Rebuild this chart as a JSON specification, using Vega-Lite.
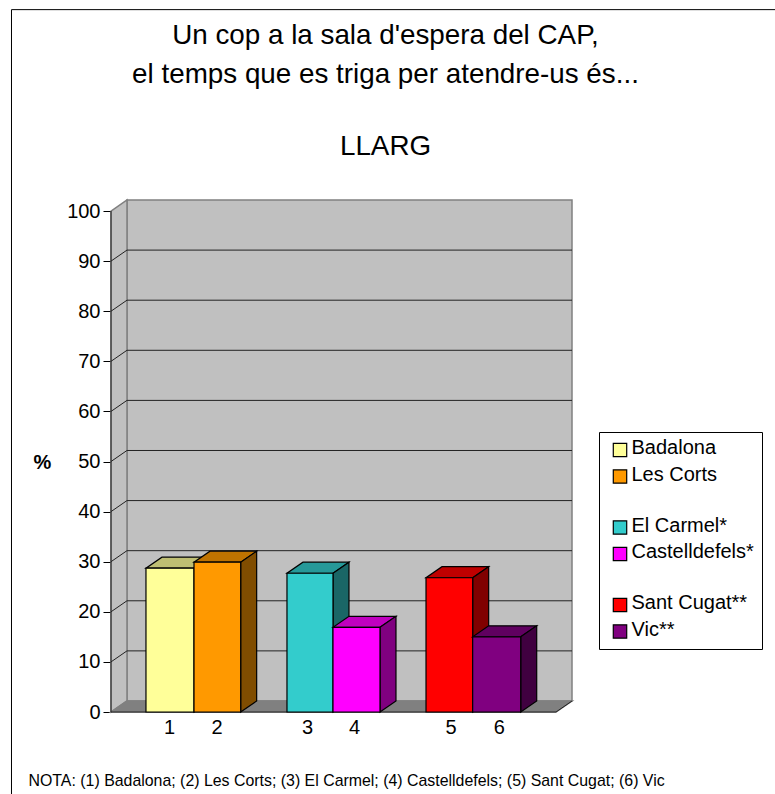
{
"$schema":"https://vega.github.io/schema/vega-lite/v6.json",
"width":461,"height":512,
"autosize":"none",
"padding":{"left":111,"top":200,"right":203,"bottom":82},
"background":"white",
"title":{"text":["Un cop a la sala d'espera del CAP,","el temps que es triga per atendre-us és..."],"subtitle":"LLARG","font":"Liberation Sans","fontSize":27.8,"fontWeight":"normal","color":"black","lineHeight":39,"subtitleFont":"Liberation Sans","subtitleFontSize":27.8,"subtitleColor":"black","subtitleLineHeight":30,"subtitlePadding":44,"anchor":"middle","dx":44,"dy":151.5,"offset":0},
"config":{"view":{"stroke":null},"font":"Liberation Sans"},
"datasets":{
"frame":[{"x":-2.372,"x2":17.8,"y":140.2,"y2":-21.6}],
"walls":[
{"face":"Wall","x":0.085,"y":2.2,"y2":102.2},{"face":"Wall","x":9.553,"y":2.2,"y2":102.2},
{"face":"Left wall","x":-0.255,"y":0,"y2":100},{"face":"Left wall","x":0.085,"y":2.2,"y2":102.2}
],
"floor":[
{"face":"Floor","x":-0.255,"y":0,"y2":0},{"face":"Floor","x":0.085,"y":0,"y2":2.2},{"face":"Floor","x":9.213,"y":0,"y2":2.2},{"face":"Floor","x":9.553,"y":2.2,"y2":2.2}
],
"lines":[
{"g":"10","x":-0.255,"y":10},{"g":"10","x":0.085,"y":12.2},{"g":"10","x":9.553,"y":12.2},
{"g":"20","x":-0.255,"y":20},{"g":"20","x":0.085,"y":22.2},{"g":"20","x":9.553,"y":22.2},
{"g":"30","x":-0.255,"y":30},{"g":"30","x":0.085,"y":32.2},{"g":"30","x":9.553,"y":32.2},
{"g":"40","x":-0.255,"y":40},{"g":"40","x":0.085,"y":42.2},{"g":"40","x":9.553,"y":42.2},
{"g":"50","x":-0.255,"y":50},{"g":"50","x":0.085,"y":52.2},{"g":"50","x":9.553,"y":52.2},
{"g":"60","x":-0.255,"y":60},{"g":"60","x":0.085,"y":62.2},{"g":"60","x":9.553,"y":62.2},
{"g":"70","x":-0.255,"y":70},{"g":"70","x":0.085,"y":72.2},{"g":"70","x":9.553,"y":72.2},
{"g":"80","x":-0.255,"y":80},{"g":"80","x":0.085,"y":82.2},{"g":"80","x":9.553,"y":82.2},
{"g":"90","x":-0.255,"y":90},{"g":"90","x":0.085,"y":92.2},{"g":"90","x":9.553,"y":92.2},
{"g":"left","x":-0.255,"y":100},{"g":"left","x":-0.255,"y":0},
{"g":"bottom","x":-0.255,"y":0},{"g":"bottom","x":9.213,"y":0},{"g":"bottom","x":9.553,"y":2.2}
],
"bars":[
{"face":"Badalona top","x":0.489,"y":28.7,"y2":28.7},{"face":"Badalona top","x":0.829,"y":28.7,"y2":30.9},{"face":"Badalona top","x":1.511,"y":28.7,"y2":30.9},{"face":"Badalona top","x":1.851,"y":30.9,"y2":30.9},
{"face":"Badalona side","x":1.511,"y":0,"y2":28.7},{"face":"Badalona side","x":1.851,"y":2.2,"y2":30.9},
{"face":"Badalona","x":0.489,"y":0,"y2":28.7},{"face":"Badalona","x":1.511,"y":0,"y2":28.7},
{"face":"Les Corts top","x":1.511,"y":29.9,"y2":29.9},{"face":"Les Corts top","x":1.851,"y":29.9,"y2":32.1},{"face":"Les Corts top","x":2.504,"y":29.9,"y2":32.1},{"face":"Les Corts top","x":2.844,"y":32.1,"y2":32.1},
{"face":"Les Corts side","x":2.504,"y":0,"y2":29.9},{"face":"Les Corts side","x":2.844,"y":2.2,"y2":32.1},
{"face":"Les Corts","x":1.511,"y":0,"y2":29.9},{"face":"Les Corts","x":2.504,"y":0,"y2":29.9},
{"face":"El Carmel* top","x":3.489,"y":27.7,"y2":27.7},{"face":"El Carmel* top","x":3.829,"y":27.7,"y2":29.9},{"face":"El Carmel* top","x":4.468,"y":27.7,"y2":29.9},{"face":"El Carmel* top","x":4.808,"y":29.9,"y2":29.9},
{"face":"El Carmel* side","x":4.468,"y":0,"y2":27.7},{"face":"El Carmel* side","x":4.808,"y":2.2,"y2":29.9},
{"face":"El Carmel*","x":3.489,"y":0,"y2":27.7},{"face":"El Carmel*","x":4.468,"y":0,"y2":27.7},
{"face":"Castelldefels* top","x":4.468,"y":16.9,"y2":16.9},{"face":"Castelldefels* top","x":4.808,"y":16.9,"y2":19.1},{"face":"Castelldefels* top","x":5.468,"y":16.9,"y2":19.1},{"face":"Castelldefels* top","x":5.808,"y":19.1,"y2":19.1},
{"face":"Castelldefels* side","x":5.468,"y":0,"y2":16.9},{"face":"Castelldefels* side","x":5.808,"y":2.2,"y2":19.1},
{"face":"Castelldefels*","x":4.468,"y":0,"y2":16.9},{"face":"Castelldefels*","x":5.468,"y":0,"y2":16.9},
{"face":"Sant Cugat** top","x":6.447,"y":26.8,"y2":26.8},{"face":"Sant Cugat** top","x":6.787,"y":26.8,"y2":29},{"face":"Sant Cugat** top","x":7.44,"y":26.8,"y2":29},{"face":"Sant Cugat** top","x":7.78,"y":29,"y2":29},
{"face":"Sant Cugat** side","x":7.44,"y":0,"y2":26.8},{"face":"Sant Cugat** side","x":7.78,"y":2.2,"y2":29},
{"face":"Sant Cugat**","x":6.447,"y":0,"y2":26.8},{"face":"Sant Cugat**","x":7.44,"y":0,"y2":26.8},
{"face":"Vic** top","x":7.44,"y":15,"y2":15},{"face":"Vic** top","x":7.78,"y":15,"y2":17.2},{"face":"Vic** top","x":8.462,"y":15,"y2":17.2},{"face":"Vic** top","x":8.802,"y":17.2,"y2":17.2},
{"face":"Vic** side","x":8.462,"y":0,"y2":15},{"face":"Vic** side","x":8.802,"y":2.2,"y2":17.2},
{"face":"Vic**","x":7.44,"y":0,"y2":15},{"face":"Vic**","x":8.462,"y":0,"y2":15}
]
},
"layer":[
{"data":{"name":"frame"},"mark":{"type":"rect","fill":"transparent","stroke":"black","strokeWidth":1},
"encoding":{
"x":{"field":"x","type":"quantitative","scale":{"domain":[-0.255,9.553],"nice":false,"zero":false},
"axis":{"values":[0.98,1.99,3.915,4.915,6.972,7.994],"labelExpr":"datum.value<1.5?'1':datum.value<3?'2':datum.value<4.5?'3':datum.value<6?'4':datum.value<7.5?'5':'6'","ticks":false,"domain":false,"grid":false,"labelFont":"Liberation Sans","labelFontSize":20,"labelColor":"black","labelPadding":5,"labelAngle":0,"title":"NOTA: (1) Badalona; (2) Les Corts; (3) El Carmel; (4) Castelldefels; (5) Sant Cugat; (6) Vic","titleFont":"Liberation Sans","titleFontSize":15.9,"titleFontWeight":"normal","titleColor":"black","titleAlign":"left","titleAnchor":"start","titleBaseline":"alphabetic","titleX":-83,"titleY":73}},
"x2":{"field":"x2"},
"y":{"field":"y","type":"quantitative","scale":{"domain":[0,102.2],"nice":false,"zero":false},
"axis":{"values":[0,10,20,30,40,50,60,70,80,90,100],"domain":false,"grid":false,"tickSize":8,"tickColor":"black","tickWidth":1,"labelFont":"Liberation Sans","labelFontSize":20,"labelColor":"black","labelPadding":3,"title":"%","titleAngle":0,"titleFont":"Liberation Sans","titleFontSize":20,"titleFontWeight":"bold","titleColor":"black","titleX":-69,"titleY":272,"titleAlign":"center"}},
"y2":{"field":"y2"}}},
{"data":{"name":"walls"},"mark":{"type":"area","fill":"#c0c0c0","stroke":"#808080","strokeWidth":1.5},
"encoding":{
"x":{"field":"x","type":"quantitative"},"y":{"field":"y","type":"quantitative"},"y2":{"field":"y2"},"detail":{"field":"face"}}},
{"data":{"name":"floor"},"mark":{"type":"area","fill":"#808080","stroke":"#808080","strokeWidth":1.5},
"encoding":{
"x":{"field":"x","type":"quantitative"},"y":{"field":"y","type":"quantitative"},"y2":{"field":"y2"}}},
{"data":{"name":"lines"},"mark":{"type":"line","color":"#222222","strokeWidth":1},
"encoding":{
"x":{"field":"x","type":"quantitative"},"y":{"field":"y","type":"quantitative"},"detail":{"field":"g"}}},
{"data":{"name":"bars"},"mark":{"type":"area","stroke":"black","strokeWidth":1.2},
"encoding":{
"x":{"field":"x","type":"quantitative"},"y":{"field":"y","type":"quantitative"},"y2":{"field":"y2"},
"color":{"field":"face","type":"nominal",
"scale":{"domain":["Badalona","Les Corts"," ","El Carmel*","Castelldefels*","  ","Sant Cugat**","Vic**","Badalona top","Badalona side","Les Corts top","Les Corts side","El Carmel* top","El Carmel* side","Castelldefels* top","Castelldefels* side","Sant Cugat** top","Sant Cugat** side","Vic** top","Vic** side"],
"range":["#ffff99","#ff9900","transparent","#33cccc","#ff00ff","transparent","#ff0000","#800080","#bfbf73","#808050","#bf7300","#804d00","#269999","#1a6666","#bf00bf","#800080","#bf0000","#800000","#600060","#400040"]},
"legend":{"values":["Badalona","Les Corts"," ","El Carmel*","Castelldefels*","  ","Sant Cugat**","Vic**"],"orient":"none","legendX":488,"legendY":232,"title":null,"symbolType":"square","symbolSize":180,"symbolStrokeWidth":1.2,"symbolOffset":3,"labelOffset":1.5,"labelFont":"Liberation Sans","labelFontSize":20,"labelColor":"black","rowPadding":4.5,"padding":8,"fillColor":"white","strokeColor":"black",
"encoding":{"symbols":{"opacity":{"condition":{"test":"trim(datum.value)===''","value":0},"value":1}},"labels":{"dy":{"value":-2}}}}}}}
]
}
